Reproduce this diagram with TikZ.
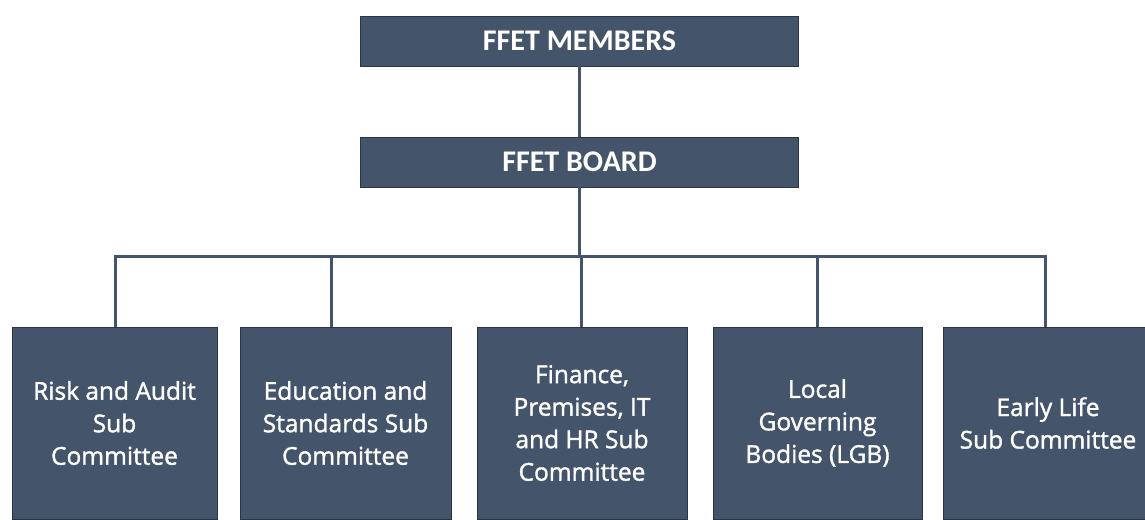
\documentclass[tikz,border=0pt]{standalone}
\usepackage{fontspec}
\newfontfamily\topfont{Carlito}
\newfontfamily\boxfont[FakeBold=1.4]{Open Sans}
\definecolor{slate}{HTML}{44546A}
\definecolor{edgecol}{HTML}{2B3645}
\begin{document}
\begin{tikzpicture}[x=1pt,y=-1pt,
  topbox/.style={fill=slate,draw=edgecol,line width=0.8pt,minimum width=438pt,minimum height=50pt,
    inner sep=0pt,text=white,font=\topfont\bfseries\fontsize{30}{36}\selectfont},
  subbox/.style={fill=slate,draw=edgecol,line width=0.8pt,minimum height=192pt,
    inner sep=0pt,text=white,align=center,font=\boxfont\fontsize{24.5}{32.5}\selectfont},
  link/.style={draw=slate,line width=3pt}]
\useasboundingbox (0,0) rectangle (1145,519);
\fill[white] (0,0) rectangle (1145,519);
\clip (0,0) rectangle (1145,519);
\node[topbox] (members) at (579.5,41) {FFET MEMBERS};
\node[topbox] (board) at (579.5,162) {FFET BOARD};
\node[subbox,minimum width=205pt] (b1) at (114.5,423) {Risk and Audit\\Sub\\Committee};
\node[subbox,minimum width=211pt] (b2) at (345.5,423) {Education and\\Standards Sub\\Committee};
\node[subbox,minimum width=210pt] (b3) at (582,423) {Finance,\\Premises, IT\\and HR Sub\\Committee};
\node[subbox,minimum width=209pt] (b4) at (817.5,423) {Local\\Governing\\Bodies (LGB)};
\node[subbox,minimum width=210pt] (b5) at (1048,423) {Early Life\\Sub Committee};
\coordinate (busL) at (115,256);
\coordinate (busR) at (1045,256);
\coordinate (d2) at (331,327);
\coordinate (d3) at (581,327);
\coordinate (d4) at (817,327);
\coordinate (d5) at (1045,327);
\draw[link] (members.south -| 579,0) -- (board.north -| 579,0);
\draw[link] (board.south -| 579,0) -- (busL -| 579,0);
\draw[link] (b1.north -| busL) -- (busL) -- (busR) -- (d5);
\draw[link] (d2 |- busL) -- (d2);
\draw[link] (d3 |- busL) -- (d3);
\draw[link] (d4 |- busL) -- (d4);
\end{tikzpicture}
\end{document}
